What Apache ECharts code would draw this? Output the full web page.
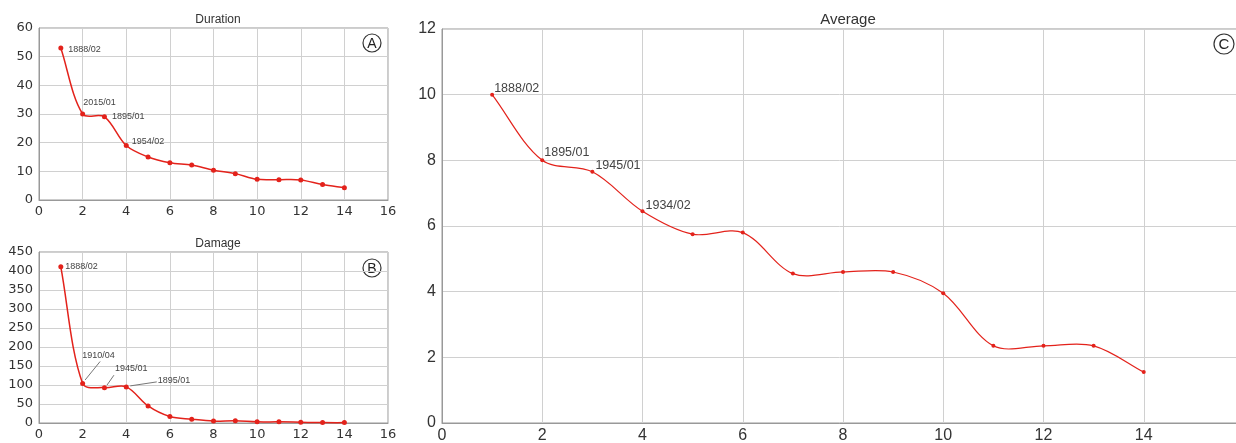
<!DOCTYPE html>
<html>
<head>
<meta charset="utf-8">
<script src="https://cdn.jsdelivr.net/npm/echarts@6/dist/echarts.min.js"></script>
<style>
  html, body { margin: 0; padding: 0; background: #fff; }
  #chart { width: 1236px; height: 443px; }
</style>
</head>
<body>
<div id="chart"></div>
<script>
// Rank (1..14) on the x axis
const ranks = [1, 2, 3, 4, 5, 6, 7, 8, 9, 10, 11, 12, 13, 14];

// Panel A: duration
const durationValues = [53, 30, 29, 19, 15, 13, 12.2, 10.4, 9.2, 7.2, 7.1, 7, 5.4, 4.3];
const durationNames = ['1888/02', '2015/01', '1895/01', '1954/02'];

// Panel B: damage
const damageValues = [411, 104, 93, 95, 45, 17, 10, 5, 6, 3, 3, 2, 1, 1];
const damageNames = ['1888/02', '1910/04', '1945/01', '1895/01'];

// Panel C: average
const averageValues = [10, 8, 7.65, 6.45, 5.75, 5.8, 4.55, 4.6, 4.6, 3.95, 2.35, 2.35, 2.35, 1.55];
const averageNames = ['1888/02', '1895/01', '1945/01', '1934/02'];

const panelTitles = ['Duration', 'Damage', 'Average'];
const panelMarks = ['A', 'B', 'C'];

const RED = '#e3221b';
const FONT = '"Liberation Sans", Arial, sans-serif';
const TICK_FONT_SMALL = '"DejaVu Sans", sans-serif';

// label offsets (position 'right' of each point)
const offA = [[0, 1], [-7, -11], [0, 0], [-2, -4]];
const offB = [[-3, 0], [-8, -28], [3, -19], [24, -6]];
const offC = [[-5, -6], [-5, -8], [-4, -6], [-4, -6]];
// leader lines in panel B: [from, to] in pixels relative to the point
const leadersB = { 1: [[2.5, -3.5], [17.5, -22]], 2: [[2.5, -2.5], [9.5, -12.5]], 3: [[4, -1], [30.5, -5]] };

function pairs(values) {
  return ranks.map((r, i) => [r, values[i]]);
}

function withLabels(values, names, offsets, fontSize) {
  return ranks.map((r, i) => {
    const item = { value: [r, values[i]] };
    if (i < names.length) {
      item.label = {
        show: true, position: 'right', formatter: names[i],
        offset: offsets[i],
        fontSize: fontSize, color: '#444', fontFamily: FONT
      };
    }
    return item;
  });
}

// Smoothed curve through the points: one cubic segment per point, with
// tangents taken from the neighbouring points and scaled by segment lengths.
function smoothRenderer(values, width, leaders) {
  const n = ranks.length;
  const clampIdx = j => Math.max(0, Math.min(n - 1, j));
  return function (params, api) {
    const i = params.dataIndex;
    const children = [];
    const P = j => api.coord([ranks[clampIdx(j)], values[clampIdx(j)]]);
    if (i < n - 1) {
      const p0 = P(i - 1), p1 = P(i), p2 = P(i + 1), p3 = P(i + 2);
      const d = (a, b) => Math.hypot(b[0] - a[0], b[1] - a[1]);
      const d01 = d(p0, p1), d12 = d(p1, p2), d23 = d(p2, p3);
      const s = 1 / 3;
      const k1 = d01 === 0 ? s : s * d12 / (d01 + d12);
      const k2 = d23 === 0 ? s : s * d12 / (d12 + d23);
      const a = d01 === 0 ? [p2[0] - p1[0], p2[1] - p1[1]] : [p2[0] - p0[0], p2[1] - p0[1]];
      const b = d23 === 0 ? [p2[0] - p1[0], p2[1] - p1[1]] : [p3[0] - p1[0], p3[1] - p1[1]];
      children.push({
        type: 'bezierCurve',
        shape: {
          x1: p1[0], y1: p1[1], x2: p2[0], y2: p2[1],
          cpx1: p1[0] + a[0] * k1, cpy1: p1[1] + a[1] * k1,
          cpx2: p2[0] - b[0] * k2, cpy2: p2[1] - b[1] * k2
        },
        style: { stroke: RED, lineWidth: width, fill: 'none' }
      });
    }
    if (leaders && leaders[i]) {
      const p = P(i);
      const L = leaders[i];
      children.push({
        type: 'line',
        shape: { x1: p[0] + L[0][0], y1: p[1] + L[0][1], x2: p[0] + L[1][0], y2: p[1] + L[1][1] },
        style: { stroke: '#777', lineWidth: 1 }
      });
    }
    return { type: 'group', children: children };
  };
}

function xAxisFor(gridIndex, fs, margin, family) {
  return {
    type: 'value', gridIndex: gridIndex, min: 0, max: 16, interval: 2,
    axisLine: { show: true, lineStyle: { color: '#999' } },
    axisTick: { show: false },
    axisLabel: { color: '#333', fontSize: fs, fontFamily: family, margin: margin },
    splitLine: { show: true, lineStyle: { color: '#d0d0d0', width: 1 } }
  };
}
function yAxisFor(gridIndex, max, interval, fs, family) {
  return {
    type: 'value', gridIndex: gridIndex, min: 0, max: max, interval: interval,
    axisLine: { show: true, lineStyle: { color: '#999' } },
    axisTick: { show: false },
    axisLabel: { color: '#333', fontSize: fs, fontFamily: family, margin: 6 },
    splitLine: { show: true, lineStyle: { color: '#d0d0d0', width: 1 } }
  };
}

function circleMark(cx, cy, r, letter, fs) {
  return {
    type: 'group', x: cx, y: cy, z: 100,
    children: [
      { type: 'circle', shape: { cx: 0, cy: 0, r: r },
        style: { fill: '#fff', stroke: '#333', lineWidth: 1.2 } },
      { type: 'text', x: 0, y: 1,
        style: { text: letter, fill: '#222', font: fs + 'px ' + FONT,
                 align: 'center', verticalAlign: 'middle' } }
    ]
  };
}

function curveSeries(idx, values, width, leaders) {
  return {
    type: 'custom', xAxisIndex: idx, yAxisIndex: idx, silent: true, z: 2,
    encode: { x: 0, y: 1 },
    data: pairs(values),
    renderItem: smoothRenderer(values, width, leaders)
  };
}

function pointSeries(idx, values, names, offsets, fontSize, size) {
  return {
    type: 'line', xAxisIndex: idx, yAxisIndex: idx, z: 3,
    data: withLabels(values, names, offsets, fontSize),
    symbol: 'circle', symbolSize: size,
    itemStyle: { color: RED },
    lineStyle: { opacity: 0 }
  };
}

const chart = echarts.init(document.getElementById('chart'), null, { renderer: 'canvas' });

const gridBase = { show: true, borderColor: '#999', borderWidth: 1, containLabel: false, outerBoundsMode: 'none' };

const option = {
  animation: false,
  backgroundColor: '#fff',
  title: [
    { text: panelTitles[0], left: 213, top: 9, textAlign: 'center',
      textStyle: { fontSize: 12, fontWeight: 'normal', color: '#333', fontFamily: FONT } },
    { text: panelTitles[1], left: 213, top: 233, textAlign: 'center',
      textStyle: { fontSize: 12, fontWeight: 'normal', color: '#333', fontFamily: FONT } },
    { text: panelTitles[2], left: 843, top: 7, textAlign: 'center',
      textStyle: { fontSize: 15, fontWeight: 'normal', color: '#333', fontFamily: FONT } }
  ],
  grid: [
    Object.assign({ left: 39, top: 28, width: 349, height: 172 }, gridBase),
    Object.assign({ left: 39, top: 252, width: 349, height: 171 }, gridBase),
    Object.assign({ left: 442, top: 29, width: 802, height: 394 }, gridBase)
  ],
  xAxis: [
    xAxisFor(0, 13, 5, TICK_FONT_SMALL),
    xAxisFor(1, 13, 5, TICK_FONT_SMALL),
    xAxisFor(2, 16, 5, FONT)
  ],
  yAxis: [
    yAxisFor(0, 60, 10, 13, TICK_FONT_SMALL),
    yAxisFor(1, 450, 50, 13, TICK_FONT_SMALL),
    yAxisFor(2, 12, 2, 16, FONT)
  ],
  series: [
    curveSeries(0, durationValues, 1.5),
    pointSeries(0, durationValues, durationNames, offA, 9, 5),
    curveSeries(1, damageValues, 1.5, leadersB),
    pointSeries(1, damageValues, damageNames, offB, 9, 5),
    curveSeries(2, averageValues, 1.2),
    pointSeries(2, averageValues, averageNames, offC, 12.5, 4)
  ],
  graphic: [
    circleMark(372, 43, 9, panelMarks[0], 14),
    circleMark(372, 268, 9, panelMarks[1], 14),
    circleMark(1224, 44, 10, panelMarks[2], 15)
  ]
};

chart.setOption(option);
</script>
</body>
</html>
